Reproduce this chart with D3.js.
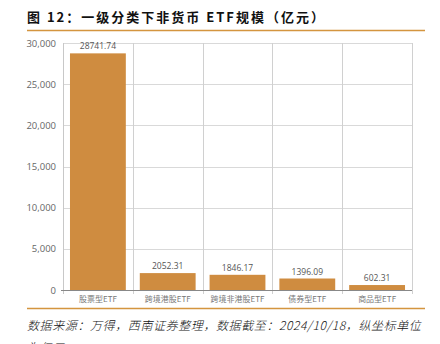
<!DOCTYPE html>
<html><head><meta charset="utf-8">
<script src="https://cdn.jsdelivr.net/npm/d3@7/dist/d3.min.js"></script>
<style>
html,body{margin:0;padding:0;background:#fff;overflow:hidden;}
svg{display:block;}
</style></head>
<body>
<script>
const categories = ["股票型ETF","跨境港股ETF","跨境非港股ETF","债券型ETF","商品型ETF"];
const values = [28741.74, 2052.31, 1846.17, 1396.09, 602.31];
const valueLabels = ["28741.74","2052.31","1846.17","1396.09","602.31"];
const yTicks = [0, 5000, 10000, 15000, 20000, 25000, 30000];
const titleText = "图 12：一级分类下非货币 ETF规模（亿元）";
const footerLine1 = "数据来源：万得，西南证券整理，数据截至：2024/10/18，纵坐标单位";
const footerLine2 = "为亿元";

const W = 440, H = 344;
const svg = d3.select("body").append("svg").attr("width", W).attr("height", H);
const cjk = "'Noto Sans CJK SC', 'Noto Sans', sans-serif";
const lat = "'Open Sans', 'Noto Sans CJK SC', sans-serif";

// title
svg.append("text").attr("x", 27).attr("y", 22)
  .attr("font-family", cjk).attr("font-size", 13).attr("font-weight", "bold")
  .attr("letter-spacing", 2).attr("fill", "#111").text(titleText);
svg.append("line").attr("x1", 27).attr("x2", 425).attr("y1", 30.5).attr("y2", 30.5)
  .attr("stroke", "#D4953F").attr("stroke-width", 1.5);

const m = {l: 63, r: 412, t: 43, b: 290};
const x = d3.scaleBand().domain(categories).range([m.l, m.r]).paddingInner(0.2).paddingOuter(0.1);
const y = d3.scaleLinear().domain([0, 30000]).range([m.b, m.t]);

// horizontal grid
svg.append("g").selectAll("line").data(yTicks.filter(d => d > 0)).join("line")
  .attr("x1", m.l).attr("x2", m.r)
  .attr("y1", d => Math.round(y(d)) + 0.5).attr("y2", d => Math.round(y(d)) + 0.5)
  .attr("stroke", "#d9d9d9").attr("stroke-width", 1);

// vertical band separators
const step = (m.r - m.l) / categories.length;
const seps = d3.range(categories.length + 1).map(i => m.l + i * step);
svg.append("g").selectAll("line").data(seps).join("line")
  .attr("x1", d => Math.round(d) + 0.5).attr("x2", d => Math.round(d) + 0.5)
  .attr("y1", m.t).attr("y2", m.b + 4)
  .attr("stroke", (d, i) => (i === 0 ? "#c8c8c8" : "#d0d0d0")).attr("stroke-width", 1);

// y labels
svg.append("g").selectAll("text").data(yTicks).join("text")
  .attr("x", 56).attr("y", d => y(d) + 3.5).attr("text-anchor", "end")
  .attr("font-family", lat).attr("font-size", 9.5).attr("fill", "#666")
  .text(d => d3.format(",")(d));

// bars
svg.append("g").selectAll("rect").data(values).join("rect")
  .attr("x", (d, i) => x(categories[i])).attr("width", x.bandwidth())
  .attr("y", d => y(d)).attr("height", d => m.b - y(d))
  .attr("fill", "#CF8C40");

// value labels
svg.append("g").selectAll("text").data(values).join("text")
  .attr("x", (d, i) => x(categories[i]) + x.bandwidth() / 2).attr("y", d => y(d) - 4)
  .attr("text-anchor", "middle").attr("font-family", lat).attr("font-size", 8.5)
  .attr("fill", "#555").text((d, i) => valueLabels[i]);

// x axis baseline
svg.append("line").attr("x1", m.l - 2).attr("x2", m.r).attr("y1", m.b + 0.5).attr("y2", m.b + 0.5)
  .attr("stroke", "#888").attr("stroke-width", 1);

// x labels
svg.append("g").selectAll("text").data(categories).join("text")
  .attr("x", d => x(d) + x.bandwidth() / 2).attr("y", m.b + 12)
  .attr("text-anchor", "middle").attr("font-family", cjk).attr("font-size", 8)
  .attr("fill", "#777").text(d => d);

// bottom rule
svg.append("line").attr("x1", 27).attr("x2", 425).attr("y1", 308.5).attr("y2", 308.5)
  .attr("stroke", "#D4953F").attr("stroke-width", 1.5);

// footer
svg.append("text").attr("x", 27).attr("y", 330)
  .attr("font-family", cjk).attr("font-size", 12).attr("font-style", "italic")
  .attr("font-weight", 300).attr("letter-spacing", 0.6)
  .attr("fill", "#111").text(footerLine1);
svg.append("text").attr("x", 27).attr("y", 352)
  .attr("font-family", cjk).attr("font-size", 12).attr("font-style", "italic")
  .attr("font-weight", 300).attr("letter-spacing", 0.6)
  .attr("fill", "#111").text(footerLine2);
</script>
</body></html>
